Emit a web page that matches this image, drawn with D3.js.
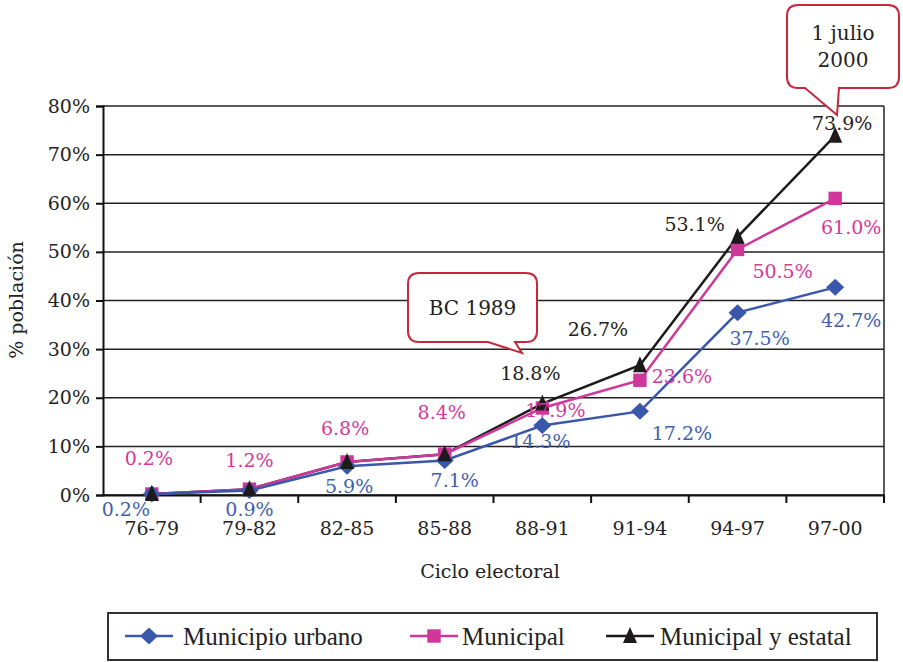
<!DOCTYPE html>
<html>
<head>
<meta charset="utf-8">
<script src="https://cdn.jsdelivr.net/npm/d3@7"></script>
<style>
body{margin:0;background:#fff;}
</style>
</head>
<body>
<script>
// data
var ciclos=["76-79","79-82","82-85","85-88","88-91","91-94","94-97","97-00"];
var urbano=[0.2,0.9,5.9,7.1,14.3,17.2,37.5,42.7];
var municipal=[0.2,1.2,6.8,8.4,17.9,23.6,50.5,61.0];
var estatal=[0.2,1.2,6.8,8.4,18.8,26.7,53.1,73.9];
var estatalShown=[false,false,false,false,true,true,true,true];
var yTicks=[0,10,20,30,40,50,60,70,80];
var serieNames=["Municipio urbano","Municipal","Municipal y estatal"];

// label offsets from each point (layout only)
var offUrbano=[[-26,15],[0,18],[2,20],[10,20],[-2,16],[42,22],[22,25],[16,33]];
var offMunicipal=[[-3,-36],[0,-29],[-2,-34],[-3,-42],[13,2],[42,-4],[45,22],[16,29]];
var offEstatal=[[0,0],[0,0],[0,0],[0,0],[-12,-31],[-42,-36],[-43,-13],[7,-13]];

var W=903,H=662;
var serif="DejaVu Serif";
var svg=d3.select("body").append("svg").attr("width",W).attr("height",H)
    .style("font-family",serif);

var x=d3.scaleBand().domain(ciclos).range([103,884]);
var y=d3.scaleLinear().domain([0,80]).range([495,106]);
var cx=function(i){return x(ciclos[i])+x.bandwidth()/2;};

var blue="#3a58ab",pink="#d0379a",black="#1c1a1a",red="#c42a3c";

// gridlines
svg.append("g").selectAll("line").data(yTicks).enter().append("line")
    .attr("x1",103).attr("x2",884)
    .attr("y1",function(d){return y(d);}).attr("y2",function(d){return y(d);})
    .attr("stroke","#222").attr("stroke-width",1.5);
svg.append("line").attr("x1",884).attr("x2",884).attr("y1",y(80)).attr("y2",y(0))
    .attr("stroke","#222").attr("stroke-width",1.5);

// axes
var yAxis=svg.append("g").attr("transform","translate(103,0)")
    .call(d3.axisLeft(y).tickValues(yTicks).tickSize(7).tickPadding(6).tickFormat(function(d){return d+"%";}));
var xAxis=svg.append("g").attr("transform","translate(0,495)")
    .call(d3.axisBottom(x).tickSize(0).tickPadding(27));
[yAxis,xAxis].forEach(function(g){
    g.select(".domain").attr("stroke","#111").attr("stroke-width",2);
    g.selectAll("line").attr("stroke","#111").attr("stroke-width",2);
    g.selectAll("text").style("font-family",serif).style("font-size","19px").attr("fill","#222");
});
// x ticks at band boundaries
svg.append("g").selectAll("line").data(ciclos).enter().append("line")
    .attr("x1",function(d,i){return x(d)+x.step();})
    .attr("x2",function(d,i){return x(d)+x.step();})
    .attr("y1",495).attr("y2",503).attr("stroke","#111").attr("stroke-width",2);

svg.append("text").attr("x",490).attr("y",578).attr("text-anchor","middle")
    .attr("font-size",19).attr("fill","#222").text("Ciclo electoral");
svg.append("text").attr("transform","translate(23,300) rotate(-90)").attr("text-anchor","middle")
    .attr("font-size",19).attr("fill","#222").text("% población");

// lines
var line=d3.line().x(function(d,i){return cx(i);}).y(function(d){return y(d);});
[[estatal,black],[municipal,pink],[urbano,blue]].forEach(function(s){
    svg.append("path").datum(s[0]).attr("d",line).attr("fill","none")
        .attr("stroke",s[1]).attr("stroke-width",2.5);
});

// markers
var sym={
    diamond:"M0,-8.5L9,0L0,8.5L-9,0Z",
    square:d3.symbol().type(d3.symbolSquare).size(180)(),
    triangle:"M0,-9L7,7L-7,7Z"
};
function markers(vals,shape,col){
    svg.append("g").selectAll("path").data(vals).enter().append("path")
        .attr("d",shape)
        .attr("transform",function(d,i){return "translate("+cx(i)+","+y(d)+")";})
        .attr("fill",col);
}
markers(municipal,sym.square,pink);
markers(urbano,sym.diamond,blue);
markers(estatal,sym.triangle,black);

// data labels
function labels(vals,offs,col,shown){
    var rows=vals.map(function(v,i){return {v:v,i:i};})
        .filter(function(d){return !shown||shown[d.i];});
    svg.append("g").selectAll("text").data(rows).enter().append("text")
        .attr("x",function(d){return cx(d.i)+offs[d.i][0];})
        .attr("y",function(d){return y(d.v)+offs[d.i][1];})
        .attr("text-anchor","middle").attr("dominant-baseline","central")
        .attr("font-size",19).attr("fill",col)
        .text(function(d){return d.v.toFixed(1)+"%";});
}
labels(urbano,offUrbano,"#3f5fb0");
labels(municipal,offMunicipal,"#d4399a");
labels(estatal,offEstatal,"#222",estatalShown);

// callouts
function callout(x0,y0,w,h,bx1,bx2,tx,ty,lines){
    var r=11;
    var p="M"+(x0+r)+","+y0+
        " H"+(x0+w-r)+" Q"+(x0+w)+","+y0+" "+(x0+w)+","+(y0+r)+
        " V"+(y0+h-r)+" Q"+(x0+w)+","+(y0+h)+" "+(x0+w-r)+","+(y0+h)+
        " H"+bx2+" L"+tx+","+ty+" L"+bx1+","+(y0+h)+
        " H"+(x0+r)+" Q"+x0+","+(y0+h)+" "+x0+","+(y0+h-r)+
        " V"+(y0+r)+" Q"+x0+","+y0+" "+(x0+r)+","+y0+" Z";
    svg.append("path").attr("d",p).attr("fill","#fff").attr("stroke",red).attr("stroke-width",2);
    lines.forEach(function(t,k){
        svg.append("text").attr("x",x0+w/2).attr("y",y0+h/2+(k-(lines.length-1)/2)*27)
            .attr("text-anchor","middle").attr("dominant-baseline","central")
            .attr("font-size",20).attr("fill","#222").text(t);
    });
}
callout(408,273,129,69,488,515,522,353,["BC 1989"]);
callout(787,5,112,83,805,839,837,115,["1 julio","2000"]);

// legend
var lg=svg.append("g");
lg.append("rect").attr("x",108).attr("y",613).attr("width",769).attr("height",47)
    .attr("fill","#fff").attr("stroke","#333").attr("stroke-width",2);
var legItems=[
    {name:serieNames[0],col:blue,shape:sym.diamond,lx:125,tx:183},
    {name:serieNames[1],col:pink,shape:sym.square,lx:410,tx:462},
    {name:serieNames[2],col:black,shape:sym.triangle,lx:606,tx:660}
];
legItems.forEach(function(d){
    lg.append("line").attr("x1",d.lx).attr("x2",d.lx+48).attr("y1",636).attr("y2",636)
        .attr("stroke",d.col).attr("stroke-width",2.5);
    lg.append("path").attr("d",d.shape).attr("transform","translate("+(d.lx+24)+",636)").attr("fill",d.col);
    lg.append("text").attr("x",d.tx).attr("y",636).attr("dominant-baseline","central")
        .style("font-family","Liberation Serif").style("font-size","25px").attr("fill","#222").text(d.name);
});
</script>
</body>
</html>
